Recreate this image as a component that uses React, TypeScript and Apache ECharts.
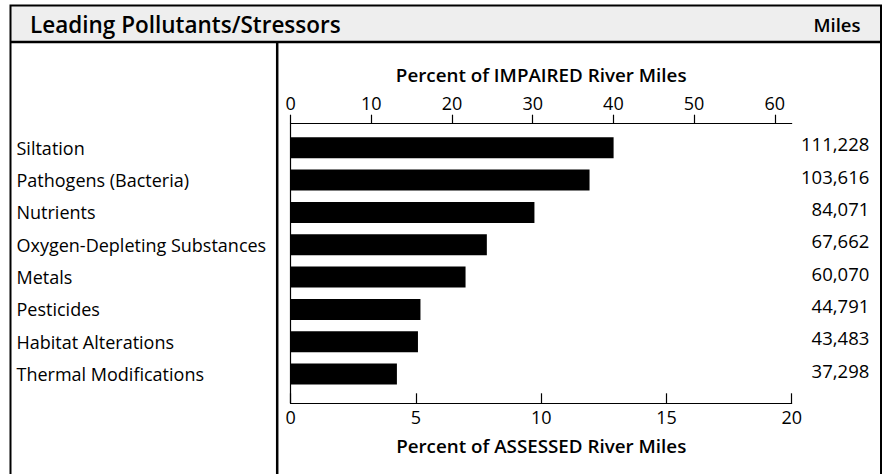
import React, { useEffect, useRef } from "react";
import * as echarts from "echarts";

const categories = [
  "Siltation",
  "Pathogens (Bacteria)",
  "Nutrients",
  "Oxygen-Depleting Substances",
  "Metals",
  "Pesticides",
  "Habitat Alterations",
  "Thermal Modifications",
];
const assessedPercent = [12.89, 11.93, 9.73, 7.83, 6.98, 5.18, 5.08, 4.24];
const milesLabels = ["111,228", "103,616", "84,071", "67,662", "60,070", "44,791", "43,483", "37,298"];
const assessedMax = 20;
const assessedInterval = 5;
const impairedMax = 62.1;
const impairedInterval = 10;

const FONT = "'Open Sans', 'Noto Sans', sans-serif";

export default function App() {
  const ref = useRef<HTMLDivElement>(null);
  useEffect(() => {
    if (!ref.current) return;
    const chart = echarts.init(ref.current, null, { renderer: "svg" });
    const left = 290.7;
    const right = 886 - 791.7;
    const axisLineStyle = { color: "#000", width: 1.2 };
    chart.setOption({
      animation: false,
      backgroundColor: "#fff",
      textStyle: { fontFamily: FONT, color: "#000" },
      grid: [
        { left, right, top: 123.7, bottom: 474 - 403.3, containLabel: false },
        { left, right, top: 131.6, bottom: 474 - 390.2, containLabel: false },
        { left, right, top: 127.6, bottom: 474 - 386.2, containLabel: false },
      ],
      xAxis: [
        {
          type: "value",
          gridIndex: 0,
          position: "bottom",
          min: 0,
          max: assessedMax,
          interval: assessedInterval,
          axisLine: { show: true, lineStyle: axisLineStyle },
          axisTick: { show: true, inside: true, length: 10, lineStyle: axisLineStyle },
          axisLabel: { fontSize: 18, color: "#000", margin: 5, fontFamily: FONT },
          splitLine: { show: false },
          name: "Percent of ASSESSED River Miles",
          nameLocation: "middle",
          nameGap: 33,
          nameTextStyle: { fontSize: 18.8, fontWeight: 600, color: "#000", fontFamily: FONT },
        },
        {
          type: "value",
          gridIndex: 0,
          position: "top",
          min: 0,
          max: impairedMax,
          interval: impairedInterval,
          axisLine: { show: true, lineStyle: axisLineStyle },
          axisTick: { show: true, inside: false, length: 9, lineStyle: axisLineStyle },
          axisLabel: { fontSize: 18, color: "#000", margin: 12, showMaxLabel: false, fontFamily: FONT },
          splitLine: { show: false },
          name: "Percent of IMPAIRED River Miles",
          nameLocation: "middle",
          nameGap: 39,
          nameTextStyle: { fontSize: 18.8, fontWeight: 600, color: "#000", fontFamily: FONT },
        },
        {
          type: "value",
          gridIndex: 1,
          min: 0,
          max: assessedMax,
          show: false,
        },
        {
          type: "value",
          gridIndex: 2,
          min: 0,
          max: assessedMax,
          show: false,
        },
      ],
      yAxis: [
        {
          type: "value",
          gridIndex: 0,
          position: "right",
          min: 0,
          max: 1,
          axisLine: { show: true, lineStyle: axisLineStyle },
          axisTick: { show: false },
          axisLabel: { show: false },
          splitLine: { show: false },
        },
        {
          type: "category",
          gridIndex: 1,
          position: "left",
          inverse: true,
          data: categories,
          axisLine: { show: false },
          axisTick: { show: false },
          axisLabel: {
            align: "left",
            margin: left - 16.5,
            fontSize: 18,
            color: "#000",
            fontFamily: FONT,
          },
        },
        {
          type: "category",
          gridIndex: 2,
          position: "right",
          inverse: true,
          data: categories,
          axisLine: { show: false },
          axisTick: { show: false },
          axisLabel: {
            align: "right",
            margin: 869.3 - 791.7,
            fontSize: 18.5,
            color: "#000",
            fontFamily: FONT,
            formatter: (_v: string, i: number) => milesLabels[i],
          },
        },
      ],
      series: [
        {
          type: "bar",
          xAxisIndex: 2,
          yAxisIndex: 1,
          data: assessedPercent,
          barWidth: 21,
          itemStyle: { color: "#000" },
          silent: true,
        },
      ],
      graphic: [
        {
          type: "rect",
          z: -1,
          shape: { x: 10.5, y: 5.5, width: 870.5, height: 36.5 },
          style: { fill: "#eeeeee", stroke: null },
        },
        {
          type: "rect",
          shape: { x: 10.5, y: 5.5, width: 870.5, height: 520 },
          style: { fill: null, stroke: "#000", lineWidth: 2 },
        },
        {
          type: "line",
          shape: { x1: 10.5, y1: 42, x2: 881, y2: 42 },
          style: { stroke: "#000", lineWidth: 2.5 },
        },
        {
          type: "line",
          shape: { x1: 277.2, y1: 42, x2: 277.2, y2: 480 },
          style: { stroke: "#000", lineWidth: 2.5 },
        },
        {
          type: "text",
          x: 30,
          y: 24,
          style: {
            text: "Leading Pollutants/Stressors",
            fontFamily: FONT,
            fontSize: 22.5,
            fontWeight: 600,
            fill: "#000",
            textVerticalAlign: "middle",
            verticalAlign: "middle",
          },
        },
        {
          type: "text",
          x: 860.5,
          y: 24.5,
          style: {
            text: "Miles",
            fontFamily: FONT,
            fontSize: 18.5,
            fontWeight: 600,
            fill: "#000",
            align: "right",
            textAlign: "right",
            verticalAlign: "middle",
            textVerticalAlign: "middle",
          },
        },
      ],
    });
    return () => chart.dispose();
  }, []);
  return (
    <div
      ref={ref}
      style={{ position: "absolute", left: 0, top: 0, width: 886, height: 474 }}
    />
  );
}
